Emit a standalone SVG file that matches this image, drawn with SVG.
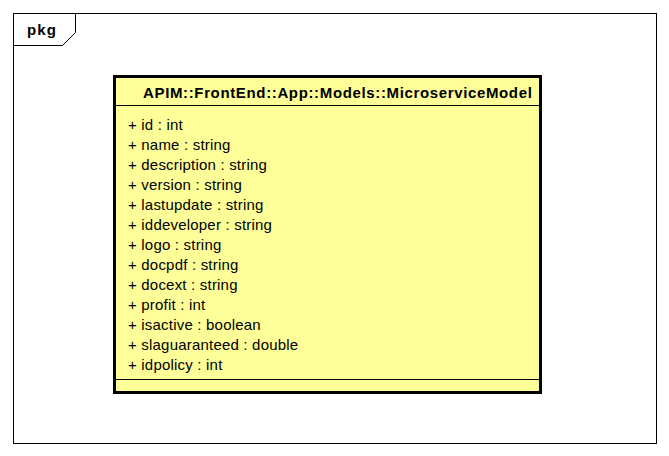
<svg xmlns="http://www.w3.org/2000/svg" width="669" height="456" viewBox="0 0 669 456">
<style>
.frame{fill:none;stroke:#000;stroke-width:1}
.box{fill:#FFFF99;stroke:#000;stroke-width:3}
.sep{stroke:#000;stroke-width:1}
.t{font-family:"Liberation Sans",Arial,sans-serif;font-size:15px;letter-spacing:0.2px;fill:#000}
.b{font-weight:bold}
</style>
<rect width="669" height="456" fill="#fff"/>
<g id="pkg">
<rect class="frame" x="13.5" y="13.5" width="643" height="430"/>
<path class="frame" d="M13.5 45.5 H62.5 L75.5 32.5 V13.5"/>
<text class="t b" x="27" y="35" textLength="29" lengthAdjust="spacing">pkg</text>
</g>
<g id="MicroserviceModel">
<rect class="box" x="114.5" y="76.5" width="426" height="316"/>
<line class="sep" x1="116" y1="105.5" x2="539" y2="105.5"/>
<line class="sep" x1="116" y1="379.5" x2="539" y2="379.5"/>
<text class="t b" x="143" y="98" textLength="389" lengthAdjust="spacing">APIM::FrontEnd::App::Models::MicroserviceModel</text>
<text class="t" x="128" y="130">+ id : int</text>
<text class="t" x="128" y="150">+ name : string</text>
<text class="t" x="128" y="170">+ description : string</text>
<text class="t" x="128" y="190">+ version : string</text>
<text class="t" x="128" y="210">+ lastupdate : string</text>
<text class="t" x="128" y="230">+ iddeveloper : string</text>
<text class="t" x="128" y="250">+ logo : string</text>
<text class="t" x="128" y="270">+ docpdf : string</text>
<text class="t" x="128" y="290">+ docext : string</text>
<text class="t" x="128" y="310">+ profit : int</text>
<text class="t" x="128" y="330">+ isactive : boolean</text>
<text class="t" x="128" y="350">+ slaguaranteed : double</text>
<text class="t" x="128" y="370">+ idpolicy : int</text>
</g>
<g id="connectors"></g>
</svg>
